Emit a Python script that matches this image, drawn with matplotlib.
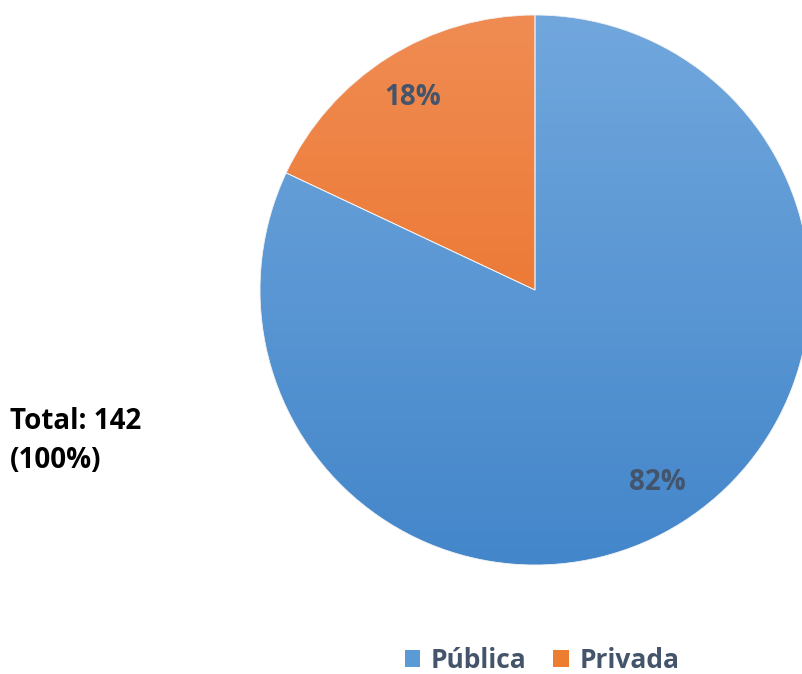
import matplotlib.pyplot as plt
import numpy as np
from matplotlib.colors import LinearSegmentedColormap
from matplotlib.patches import Patch

# share per type, percent (total 142)
categories = ['Pública', 'Privada']
shares = [82, 18]
top_colors = ['#71a7dd', '#f08c53']
bottom_colors = ['#4386ca', '#e9691b']
total_label = 'Total: 142\n(100%)'

W, H = 803, 674
fig = plt.figure(figsize=(W / 100, H / 100), dpi=100)
ax = fig.add_axes([0, 0, 1, 1])

cx, cy, r = 535, H - 290, 275
wedges, texts, autotexts = ax.pie(
    shares, center=(cx, cy), radius=r, startangle=90, counterclock=False,
    autopct='%.0f%%', pctdistance=0.83, frame=True,
    wedgeprops=dict(linewidth=0.6, edgecolor='#f3f3f3'),
    textprops=dict(fontsize=20, fontweight='bold', color='#44546a',
                   family='Open Sans'))

# vertical gradient fill for each slice
for w, c0, c1 in zip(wedges, top_colors, bottom_colors):
    cmap = LinearSegmentedColormap.from_list('g', [c1, c0])
    grad = np.linspace(0, 1, 256).reshape(-1, 1)
    im = ax.imshow(grad, cmap=cmap, origin='lower', aspect='auto',
                   extent=[cx - r, cx + r, cy - r, cy + r], zorder=1)
    im.set_clip_path(w)
    w.set_facecolor('none')
    w.set_zorder(2)
for t in autotexts:
    t.set_zorder(3)

ax.set_xlim(0, W)
ax.set_ylim(0, H)
ax.set_aspect('equal')
ax.axis('off')

ax.text(10, H - 441, total_label, fontsize=20, fontweight='bold',
        family='Open Sans', color='black', va='center', ha='left',
        linespacing=1.45)

handles = [Patch(facecolor=c, edgecolor='none') for c in ['#5b9bd5', '#ed7d31']]
leg = fig.legend(handles, categories, loc='center', ncol=2,
                 bbox_to_anchor=(542 / W, 1 - 660 / H), frameon=False,
                 prop=dict(family='Open Sans', weight='bold', size=19),
                 handlelength=0.6, handleheight=0.6, handletextpad=0.4,
                 columnspacing=1.0)
for t in leg.get_texts():
    t.set_color('#44546a')

plt.savefig('out.png', dpi=100)
